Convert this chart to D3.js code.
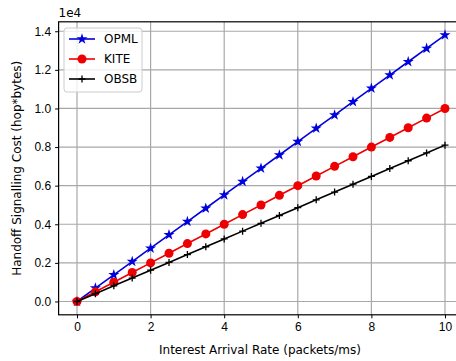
<!DOCTYPE html>
<html>
<head>
<meta charset="utf-8">
<script src="https://cdn.jsdelivr.net/npm/d3@7"></script>
<style>
  body { margin: 0; background: #fff; }
  svg { font-family: "DejaVu Sans", sans-serif; }
</style>
</head>
<body>
<svg id="chart" width="456" height="361"></svg>
<script>
const rates = [0, 0.5, 1, 1.5, 2, 2.5, 3, 3.5, 4, 4.5, 5, 5.5, 6, 6.5, 7, 7.5, 8, 8.5, 9, 9.5, 10];
const opml = [0, 690, 1380, 2070, 2760, 3450, 4140, 4830, 5520, 6210, 6900, 7590, 8280, 8970, 9660, 10350, 11040, 11730, 12420, 13110, 13800];
const kite = [0, 500, 1000, 1500, 2000, 2500, 3000, 3500, 4000, 4500, 5000, 5500, 6000, 6500, 7000, 7500, 8000, 8500, 9000, 9500, 10000];
const obsb = [0, 405, 810, 1215, 1620, 2025, 2430, 2835, 3240, 3645, 4050, 4455, 4860, 5265, 5670, 6075, 6480, 6885, 7290, 7695, 8100];
const xTicks = [0, 2, 4, 6, 8, 10];
const yTicks = [0, 2000, 4000, 6000, 8000, 10000, 12000, 14000];

const series = [
  {name: 'OPML', values: opml, color: '#0000dd', marker: 'star'},
  {name: 'KITE', values: kite, color: '#ee0000', marker: 'circle'},
  {name: 'OBSB', values: obsb, color: '#000000', marker: 'plus'},
];

const plot = {left: 58.6, top: 21.8, right: 463.4, bottom: 314.8};

const x = d3.scaleLinear().domain([-0.5, 10.5]).range([plot.left, plot.right]);
const y = d3.scaleLinear().domain([-690, 14490]).range([plot.bottom, plot.top]);

const svg = d3.select('#chart');

// grid
const grid = svg.append('g');
grid.selectAll('.gx').data(xTicks).enter().append('line')
  .attr('x1', d => x(d)).attr('x2', d => x(d))
  .attr('y1', plot.top).attr('y2', plot.bottom)
  .attr('stroke', '#a8a8a8').attr('stroke-width', 1.2);
grid.selectAll('.gy').data(yTicks).enter().append('line')
  .attr('x1', plot.left).attr('x2', plot.right)
  .attr('y1', d => y(d)).attr('y2', d => y(d))
  .attr('stroke', '#a8a8a8').attr('stroke-width', 1.2);

// axes
svg.append('g')
  .attr('transform', `translate(0, ${plot.bottom})`)
  .call(d3.axisBottom(x).tickValues(xTicks).tickSize(3.5).tickSizeOuter(0).tickPadding(4))
  .call(g => g.select('.domain').remove())
  .call(g => g.selectAll('text').attr('font-size', 12).attr('fill', '#000'));

svg.append('g')
  .attr('transform', `translate(${plot.left}, 0)`)
  .call(d3.axisLeft(y).tickValues(yTicks).tickSize(3.5).tickSizeOuter(0).tickPadding(4)
    .tickFormat(d => (d / 10000).toFixed(1)))
  .call(g => g.select('.domain').remove())
  .call(g => g.selectAll('text').attr('font-size', 12).attr('fill', '#000'));

// frame
svg.append('rect')
  .attr('x', plot.left).attr('y', plot.top)
  .attr('width', plot.right - plot.left).attr('height', plot.bottom - plot.top)
  .attr('fill', 'none').attr('stroke', '#000').attr('stroke-width', 1.2);

// lines and markers
const star = d3.symbol().type(d3.symbolStar).size(38);

function drawMarker(sel, s) {
  if (s.marker === 'circle') {
    sel.append('circle').attr('r', 4.5).attr('fill', s.color);
  } else if (s.marker === 'star') {
    sel.append('path').attr('d', star).attr('fill', s.color);
  } else {
    sel.append('path').attr('d', 'M-3.5,0H3.5M0,-3.5V3.5').attr('stroke', s.color).attr('stroke-width', 1.3);
  }
}

const line = d3.line().x((d, i) => x(rates[i])).y(d => y(d));

series.forEach(s => {
  svg.append('path')
    .datum(s.values)
    .attr('d', line)
    .attr('fill', 'none')
    .attr('stroke', s.color)
    .attr('stroke-width', 1.6);
  svg.append('g').selectAll('g')
    .data(s.values).enter().append('g')
    .attr('transform', (d, i) => `translate(${x(rates[i])}, ${y(d)})`)
    .each(function() { drawMarker(d3.select(this), s); });
});

// offset text
svg.append('text').attr('x', plot.left).attr('y', 17)
  .attr('font-size', 12).text('1e4');

// axis titles
svg.append('text')
  .attr('x', 260).attr('y', 354)
  .attr('text-anchor', 'middle').attr('font-size', 12)
  .text('Interest Arrival Rate (packets/ms)');
svg.append('text')
  .attr('transform', `translate(21, ${(plot.top + plot.bottom) / 2}) rotate(-90)`)
  .attr('text-anchor', 'middle').attr('font-size', 12)
  .text('Handoff Signalling Cost (hop*bytes)');

// legend
const legend = svg.append('g').attr('transform', 'translate(64, 28)');
legend.append('rect')
  .attr('width', 78).attr('height', 64).attr('rx', 3)
  .attr('fill', '#fff').attr('fill-opacity', 0.8)
  .attr('stroke', '#cccccc');
series.forEach((s, i) => {
  const row = legend.append('g').attr('transform', `translate(0, ${11 + i * 20})`);
  row.append('line').attr('x1', 5).attr('x2', 31).attr('stroke', s.color).attr('stroke-width', 1.6);
  drawMarker(row.append('g').attr('transform', 'translate(18, 0)'), s);
  row.append('text').attr('x', 40).attr('y', 4).attr('font-size', 12).text(s.name);
});
</script>
</body>
</html>
